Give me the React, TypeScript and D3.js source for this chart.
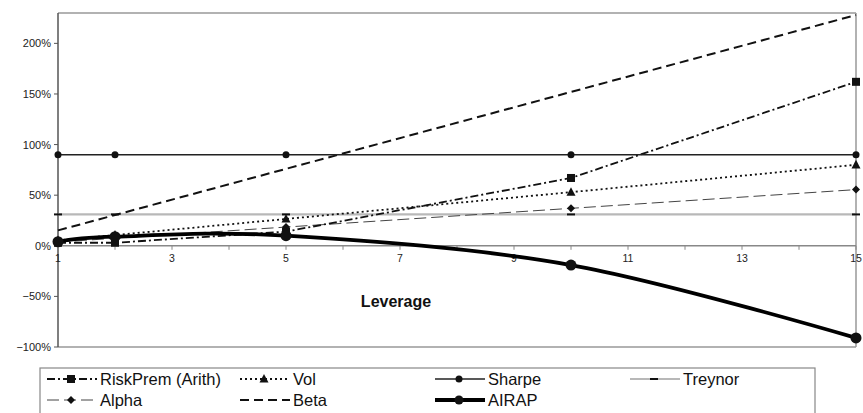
import React from "react";
import * as d3 from "d3";

const leverage = [1, 2, 5, 10, 15];
const riskPrem = [0.03, 0.03, 0.14, 0.67, 1.62];
const vol = [0.053, 0.106, 0.265, 0.53, 0.8];
const sharpe = [0.9, 0.9, 0.9, 0.9, 0.9];
const treynor = [0.31, 0.31, 0.31, 0.31, 0.31];
const alpha = [0.037, 0.074, 0.185, 0.37, 0.555];
const beta = [0.152, 0.304, 0.76, 1.52, 2.28];
const airap = [0.04, 0.09, 0.1, -0.19, -0.91];
const xTicks = [1, 3, 5, 7, 9, 11, 13, 15];
const yTicks = [-1, -0.5, 0, 0.5, 1, 1.5, 2];

type Marker = "square" | "triangle" | "circle" | "dash" | "diamond" | "none";
interface S {
  name: string;
  values: number[];
  color: string;
  width: number;
  dash: string;
  marker: Marker;
  msize: number;
  smooth?: boolean;
}

const series: S[] = [
  { name: "Treynor", values: treynor, color: "#b8b8b8", width: 2.2, dash: "", marker: "dash", msize: 4 },
  { name: "Beta", values: beta, color: "#111", width: 2, dash: "9,5", marker: "none", msize: 0 },
  { name: "Alpha", values: alpha, color: "#444", width: 1, dash: "12,5", marker: "diamond", msize: 4 },
  { name: "Vol", values: vol, color: "#111", width: 1.8, dash: "2,3", marker: "triangle", msize: 4.5 },
  { name: "RiskPrem (Arith)", values: riskPrem, color: "#111", width: 1.8, dash: "8,3,2,3", marker: "square", msize: 4 },
  { name: "Sharpe", values: sharpe, color: "#222", width: 1.5, dash: "", marker: "circle", msize: 3.5 },
  { name: "AIRAP", values: airap, color: "#000", width: 3.8, dash: "", marker: "circle", msize: 5.5, smooth: true },
];

const legendOrder = ["RiskPrem (Arith)", "Vol", "Sharpe", "Treynor", "Alpha", "Beta", "AIRAP"];

function MarkerShape({ m, x, y, s, color }: { m: Marker; x: number; y: number; s: number; color: string }) {
  if (m === "square") return <rect x={x - s} y={y - s} width={2 * s} height={2 * s} fill={color} />;
  if (m === "circle") return <circle cx={x} cy={y} r={s} fill={color} />;
  if (m === "triangle")
    return <path d={`M${x},${y - s * 1.1}L${x + s},${y + s * 0.8}L${x - s},${y + s * 0.8}Z`} fill={color} />;
  if (m === "diamond")
    return <path d={`M${x},${y - s}L${x + s},${y}L${x},${y + s}L${x - s},${y}Z`} fill={color} />;
  if (m === "dash") return <rect x={x - s} y={y - 1} width={2 * s} height={2} fill="#111" />;
  return null;
}

export default function App() {
  const W = 863, H = 413;
  const x = d3.scaleLinear().domain([1, 15]).range([58, 856]);
  const y = d3.scaleLinear().domain([-1, 2.3]).range([347, 13]);
  const font = "'Liberation Sans', Arial, sans-serif";

  const legendPos: Record<string, [number, number]> = {};
  const colX = [47, 240, 435, 630];
  legendOrder.forEach((n, i) => {
    legendPos[n] = [colX[i % 4], i < 4 ? 379 : 400];
  });

  return (
    <svg width={W} height={H} style={{ position: "absolute", left: 0, top: 0, background: "#fff" }}>
      <rect x={0} y={0} width={W} height={H} fill="#fff" />
      <line x1={58} x2={856} y1={13} y2={13} stroke="#999" strokeWidth={1.5} />
      <line x1={856} x2={856} y1={13} y2={347} stroke="#999" strokeWidth={1.5} />
      <line x1={58} x2={856} y1={347} y2={347} stroke="#999" strokeWidth={1.5} />
      <line x1={58} x2={58} y1={13} y2={347} stroke="#555" strokeWidth={1.5} />
      <line x1={58} x2={856} y1={y(0)} y2={y(0)} stroke="#888" strokeWidth={1.5} />
      {d3.range(1, 16).map((t) => (
        <line key={t} x1={x(t)} x2={x(t)} y1={y(0)} y2={y(0) + 4} stroke="#888" />
      ))}
      {xTicks.map((t) => (
        <text key={t} x={x(t)} y={y(0) + 16} fontSize={10.5} fontFamily={font} textAnchor="middle" fill="#222">
          {t}
        </text>
      ))}
      {yTicks.map((t) => (
        <g key={t}>
          <line x1={54} x2={58} y1={y(t)} y2={y(t)} stroke="#555" />
          <text x={51} y={y(t) + 4} fontSize={11} fontFamily={font} textAnchor="end" fill="#222">
            {d3.format(".0%")(t)}
          </text>
        </g>
      ))}
      <text x={396} y={307} fontSize={16} fontWeight="bold" fontFamily={font} textAnchor="middle" fill="#111">
        Leverage
      </text>
      {series.map((s) => {
        const line = d3
          .line<number>()
          .x((_, i) => x(leverage[i]))
          .y((v) => y(v))
          .curve(s.smooth ? d3.curveCardinal.tension(0) : d3.curveLinear);
        return (
          <g key={s.name}>
            <path d={line(s.values) || ""} fill="none" stroke={s.color} strokeWidth={s.width} strokeDasharray={s.dash} />
            {s.values.map((v, i) => (
              <MarkerShape key={i} m={s.marker} x={x(leverage[i])} y={y(v)} s={s.msize} color="#111" />
            ))}
          </g>
        );
      })}
      <rect x={40} y={368} width={775} height={50} fill="#fff" stroke="#888" strokeWidth={1.2} />
      {legendOrder.map((n) => {
        const s = series.find((q) => q.name === n)!;
        const [lx, ly] = legendPos[n];
        return (
          <g key={n}>
            <line x1={lx} x2={lx + 50} y1={ly} y2={ly} stroke={s.color} strokeWidth={s.width} strokeDasharray={s.dash} />
            <MarkerShape m={s.marker} x={lx + 24} y={ly} s={Math.min(s.msize, 4.5)} color="#111" />
            <text x={lx + 53} y={ly + 5.5} fontSize={16.5} fontFamily={font} fill="#111">
              {n}
            </text>
          </g>
        );
      })}
    </svg>
  );
}
